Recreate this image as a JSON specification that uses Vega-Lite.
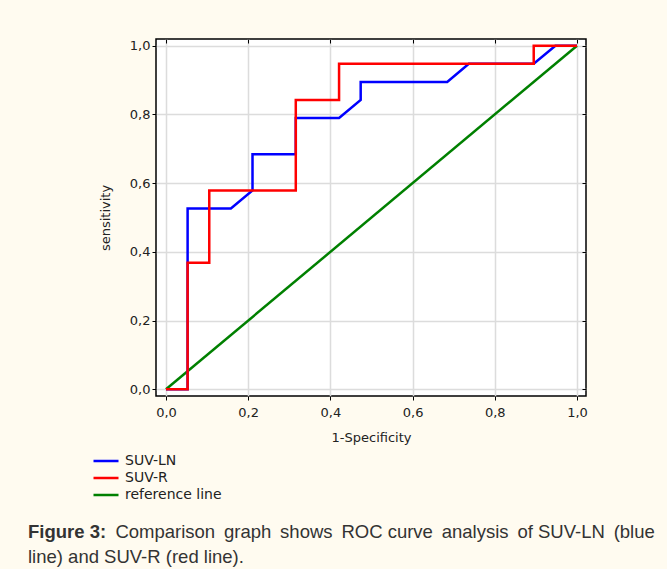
{
  "$schema": "https://vega.github.io/schema/vega-lite/v6.json",
  "autosize": "none",
  "width": 430,
  "height": 357,
  "padding": {"left": 156, "top": 39, "right": 81, "bottom": 173},
  "background": "#fffbf0",
  "data": {
    "values": [
      {"series": "reference line", "x": 0, "y": 0, "o": 0},
      {"series": "reference line", "x": 1, "y": 1, "o": 1},
      {"series": "SUV-LN", "x": 0, "y": 0, "o": 0},
      {"series": "SUV-LN", "x": 0.0526, "y": 0, "o": 1},
      {"series": "SUV-LN", "x": 0.0526, "y": 0.5263, "o": 2},
      {"series": "SUV-LN", "x": 0.1579, "y": 0.5263, "o": 3},
      {"series": "SUV-LN", "x": 0.2105, "y": 0.5789, "o": 4},
      {"series": "SUV-LN", "x": 0.2105, "y": 0.6842, "o": 5},
      {"series": "SUV-LN", "x": 0.3158, "y": 0.6842, "o": 6},
      {"series": "SUV-LN", "x": 0.3158, "y": 0.7895, "o": 7},
      {"series": "SUV-LN", "x": 0.4211, "y": 0.7895, "o": 8},
      {"series": "SUV-LN", "x": 0.4737, "y": 0.8421, "o": 9},
      {"series": "SUV-LN", "x": 0.4737, "y": 0.8947, "o": 10},
      {"series": "SUV-LN", "x": 0.6842, "y": 0.8947, "o": 11},
      {"series": "SUV-LN", "x": 0.7368, "y": 0.9474, "o": 12},
      {"series": "SUV-LN", "x": 0.8947, "y": 0.9474, "o": 13},
      {"series": "SUV-LN", "x": 0.9474, "y": 1, "o": 14},
      {"series": "SUV-LN", "x": 1, "y": 1, "o": 15},
      {"series": "SUV-R", "x": 0, "y": 0, "o": 0},
      {"series": "SUV-R", "x": 0.0526, "y": 0, "o": 1},
      {"series": "SUV-R", "x": 0.0526, "y": 0.3684, "o": 2},
      {"series": "SUV-R", "x": 0.1053, "y": 0.3684, "o": 3},
      {"series": "SUV-R", "x": 0.1053, "y": 0.5789, "o": 4},
      {"series": "SUV-R", "x": 0.3158, "y": 0.5789, "o": 5},
      {"series": "SUV-R", "x": 0.3158, "y": 0.8421, "o": 6},
      {"series": "SUV-R", "x": 0.4211, "y": 0.8421, "o": 7},
      {"series": "SUV-R", "x": 0.4211, "y": 0.9474, "o": 8},
      {"series": "SUV-R", "x": 0.8947, "y": 0.9474, "o": 9},
      {"series": "SUV-R", "x": 0.8947, "y": 1, "o": 10},
      {"series": "SUV-R", "x": 1, "y": 1, "o": 11}
    ]
  },
  "title": {
    "text": "Figure 3:",
    "subtitle": [
      "\u200b\u00a0\u00a0\u00a0\u00a0\u00a0\u00a0\u00a0\u00a0\u00a0\u00a0\u00a0\u00a0\u00a0\u00a0\u00a0\u00a0\u00a0Comparison \u2009graph \u2009shows \u2009ROC curve \u2009analysis \u2009of SUV-LN \u2009(blue",
      "line) and SUV-R (red line)."
    ],
    "orient": "bottom",
    "anchor": "start",
    "frame": "group",
    "dx": -128,
    "offset": 19,
    "font": "Liberation Sans",
    "fontSize": 18.5,
    "fontWeight": "bold",
    "color": "#333333",
    "subtitleFont": "Liberation Sans",
    "subtitleFontSize": 18.5,
    "subtitleFontWeight": "normal",
    "subtitleColor": "#333333",
    "subtitleLineHeight": 25,
    "subtitlePadding": -18.5
  },
  "layer": [
    {
      "transform": [{"filter": "datum.series === 'reference line'"}],
      "mark": {"type": "line", "strokeWidth": 2.5, "strokeJoin": "miter"},
      "encoding": {
        "x": {
          "field": "x", "type": "quantitative",
          "scale": {"domain": [-0.0243, 1.0219], "nice": false, "zero": false},
          "axis": {"orient": "top", "values": [0, 0.2, 0.4, 0.6, 0.8, 1], "labels": false, "grid": false, "domain": false, "ticks": true, "tickSize": -4, "tickColor": "#000000", "tickWidth": 1, "title": null}
        },
        "y": {
          "field": "y", "type": "quantitative",
          "scale": {"domain": [-0.0195, 1.0195], "nice": false, "zero": false},
          "axis": {"orient": "right", "values": [0, 0.2, 0.4, 0.6, 0.8, 1], "labels": false, "grid": false, "domain": false, "ticks": true, "tickSize": -4, "tickColor": "#000000", "tickWidth": 1, "title": null}
        },
        "color": {
          "field": "series", "type": "nominal",
          "scale": {"domain": ["SUV-LN", "SUV-R", "reference line"], "range": ["#0000ff", "#ff0000", "#008000"]}
        },
        "order": {"field": "o", "type": "quantitative"}
      }
    },
    {
      "transform": [{"filter": "datum.series !== 'reference line'"}],
      "mark": {"type": "line", "strokeWidth": 2.5, "strokeJoin": "miter"},
      "encoding": {
        "x": {
          "field": "x", "type": "quantitative",
          "scale": {"domain": [-0.0243, 1.0219], "nice": false, "zero": false},
          "axis": {
            "orient": "bottom", "values": [0, 0.2, 0.4, 0.6, 0.8, 1],
            "labelExpr": "replace(format(datum.value, '.1f'), '.', ',')",
            "grid": true, "gridColor": "#dcdcdc", "gridWidth": 1.5,
            "domain": false, "ticks": true, "tickSize": 4, "tickColor": "#000000", "tickWidth": 1,
            "labelPadding": 6, "labelFont": "DejaVu Sans", "labelFontSize": 13, "labelColor": "#222222",
            "title": "1-Specificity", "titleFont": "DejaVu Sans", "titleFontSize": 13, "titleFontWeight": "normal", "titleColor": "#222222", "titlePadding": 12
          }
        },
        "y": {
          "field": "y", "type": "quantitative",
          "scale": {"domain": [-0.0195, 1.0195], "nice": false, "zero": false},
          "axis": {
            "orient": "left", "values": [0, 0.2, 0.4, 0.6, 0.8, 1],
            "labelExpr": "replace(format(datum.value, '.1f'), '.', ',')",
            "grid": true, "gridColor": "#dcdcdc", "gridWidth": 1.5,
            "domain": false, "ticks": true, "tickSize": 4, "tickColor": "#000000", "tickWidth": 1,
            "labelPadding": 2, "labelFont": "DejaVu Sans", "labelFontSize": 13, "labelColor": "#222222",
            "title": "sensitivity", "titleFont": "DejaVu Sans", "titleFontSize": 13, "titleFontWeight": "normal", "titleColor": "#222222", "titlePadding": 17
          }
        },
        "color": {
          "field": "series", "type": "nominal",
          "scale": {"domain": ["SUV-LN", "SUV-R", "reference line"], "range": ["#0000ff", "#ff0000", "#008000"]},
          "legend": {
            "orient": "none", "legendX": -64, "legendY": 413.5, "title": null,
            "symbolType": "stroke", "symbolSize": 625, "symbolStrokeWidth": 2.5,
            "clipHeight": 17,
            "labelFont": "DejaVu Sans", "labelFontSize": 14, "labelColor": "#222222", "labelOffset": 5,
            "rowPadding": 0, "padding": 0
          }
        },
        "order": {"field": "o", "type": "quantitative"}
      }
    }
  ],
  "resolve": {"axis": {"x": "independent", "y": "independent"}},
  "config": {
    "view": {"stroke": "#000000", "strokeWidth": 1.5, "fill": "#ffffff"}
  }
}
